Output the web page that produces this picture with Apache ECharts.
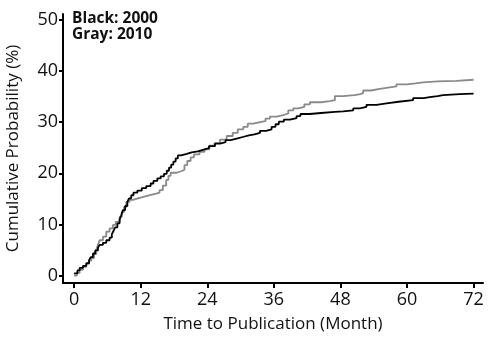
<!DOCTYPE html>
<html>
<head>
<meta charset="utf-8">
<script src="https://cdn.jsdelivr.net/npm/echarts@6/dist/echarts.min.js"></script>
<style>
html,body{margin:0;padding:0;background:#fff;}
#chart{width:490px;height:337px;}
</style>
</head>
<body>
<div id="chart"></div>
<script>
// Time to publication (months) and cumulative probability (%)
var months2000 = [0,0.6,1.0,1.6,2.2,2.7,3.0,3.4,3.8,4.3,4.6,5.2,5.8,6.4,6.8,7.1,7.4,7.8,8.2,8.5,8.8,9.2,9.6,9.9,10.3,10.7,11.4,12.2,13.0,13.8,14.3,15.0,15.6,16.2,16.7,17.1,17.5,17.9,18.3,18.7,19.3,20.3,21.2,22.3,23.2,24.3,25.4,26.3,27.3,28.2,29.3,30.4,31.5,32.5,33.5,34.6,35.6,36.3,36.9,37.8,38.9,40.1,40.8,42.5,44.5,47.0,48.5,50.3,51.5,52.7,54.5,56.3,58.5,61.1,63.0,64.1,65.5,66.5,69.5,72];
var prob2000 = [0.4,1.0,1.5,1.9,2.4,3.0,3.6,4.3,4.9,5.4,6.0,6.4,6.9,7.4,8.1,8.7,9.4,10.2,10.9,11.8,12.8,13.6,14.4,15.1,15.7,16.2,16.6,17.1,17.5,18.0,18.5,19.0,19.4,19.9,20.5,21.1,21.7,22.3,22.9,23.5,23.8,24.1,24.3,24.6,24.9,25.3,25.8,26.1,26.5,26.8,27.1,27.4,27.6,27.9,28.3,28.6,29.1,29.6,30.1,30.5,30.8,31.2,31.6,31.8,32.0,32.1,32.3,32.7,33.0,33.4,33.7,34.0,34.3,34.7,34.9,35.1,35.3,35.5,35.6,35.6];
var months2010 = [0,0.5,1.0,1.6,2.2,2.7,3.1,3.6,4.0,4.3,4.6,5.2,5.8,6.4,7.0,7.5,8.2,8.6,9.0,9.4,10.0,10.6,11.5,12.5,13.5,14.8,15.4,16.0,16.6,17.0,17.4,18.5,19.3,19.9,20.4,21.0,21.6,22.6,23.5,24.4,25.3,26.3,27.5,28.6,29.5,30.5,31.3,32.3,33.5,34.5,35.3,36.5,37.7,38.6,39.5,40.4,41.5,42.5,44.5,46.1,47.0,48.5,50.5,51.6,52.1,53.5,55.1,56.3,58.1,60.0,61.5,62.9,65.5,68.9,72];
var prob2010 = [0.0,0.5,1.1,1.7,2.3,2.9,3.4,4.2,5.0,6.0,6.9,7.6,8.6,9.2,9.9,10.5,11.5,12.4,13.4,14.4,14.8,15.1,15.4,15.7,16.0,16.2,16.7,17.6,18.7,19.5,20.1,20.4,20.7,21.6,22.4,23.1,23.7,24.2,24.7,25.4,25.9,26.6,27.3,27.9,28.6,29.1,29.7,30.0,30.2,30.7,31.1,31.4,31.7,32.3,32.7,33.0,33.5,33.9,34.1,34.3,35.1,35.3,35.5,35.7,36.2,36.5,36.7,37.0,37.4,37.6,37.8,38.0,38.1,38.3,38.3];
var xTicks = [0,12,24,36,48,60,72];
var yTicks = [0,10,20,30,40,50];
var legendLines = ['Black: 2000','Gray: 2010'];
var xTitle = 'Time to Publication (Month)';
var yTitle = 'Cumulative Probability (%)';

function pairs(xs, ys){ return xs.map(function(x,i){ return [x, ys[i]]; }); }

var FONT = '"Open Sans", sans-serif';
var chart = echarts.init(document.getElementById('chart'), null, {renderer:'canvas'});
chart.setOption({
  animation:false,
  backgroundColor:'#fff',
  grid:{left:63, right:7, top:14, bottom:54, containLabel:false, outerBoundsMode:'none'},
  xAxis:{
    type:'value', min:-2, max:73.7,
    name:xTitle, nameLocation:'middle', nameGap:33,
    nameTextStyle:{fontFamily:FONT, fontSize:17, color:'#111'},
    axisLine:{onZero:false, lineStyle:{color:'#000', width:2}},
    axisTick:{show:true, length:5, lineStyle:{color:'#000', width:2}, customValues:xTicks},
    axisLabel:{fontFamily:FONT, fontSize:18, color:'#111', margin:8, customValues:xTicks},
    splitLine:{show:false}
  },
  yAxis:{
    type:'value', min:-1.47, max:51.17,
    name:yTitle, nameLocation:'middle', nameGap:41, nameRotate:90,
    nameTextStyle:{fontFamily:FONT, fontSize:17, color:'#111'},
    axisLine:{onZero:false, lineStyle:{color:'#000', width:2}},
    axisTick:{show:true, length:4, lineStyle:{color:'#000', width:2}, customValues:yTicks},
    axisLabel:{fontFamily:FONT, fontSize:18, color:'#111', margin:5, customValues:yTicks},
    splitLine:{show:false}
  },
  graphic:[
    {type:'text', left:72, top:11, style:{text:legendLines[0], fontFamily:'Open Sans', fontWeight:'bold', fontSize:15.5, fill:'#111'}},
    {type:'text', left:72, top:27, style:{text:legendLines[1], fontFamily:'Open Sans', fontWeight:'bold', fontSize:15.5, fill:'#111'}}
  ],
  series:[
    {type:'line', step:'end', data:pairs(months2010, prob2010), showSymbol:false, lineStyle:{color:'#8a8a8a', width:1.8}, z:2},
    {type:'line', step:'end', data:pairs(months2000, prob2000), showSymbol:false, lineStyle:{color:'#000', width:1.8}, z:3}
  ]
});
</script>
</body>
</html>
